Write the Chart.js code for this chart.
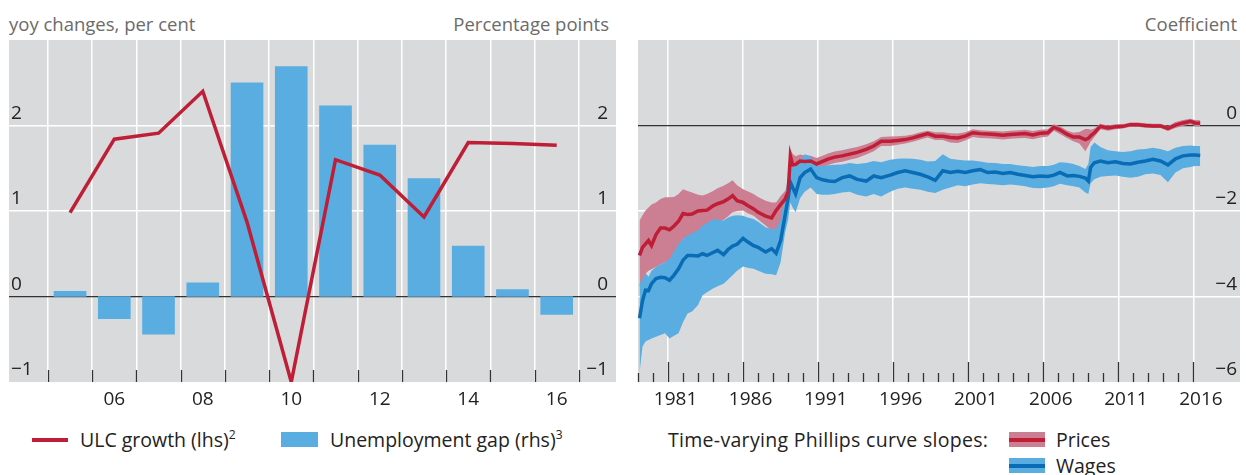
<!DOCTYPE html>
<html>
<head>
<meta charset="utf-8">
<script src="https://cdn.jsdelivr.net/npm/chart.js@4.4.1/dist/chart.umd.min.js"></script>
<style>
  body { margin: 0; width: 1246px; height: 475px; overflow: hidden; background: #fff;
         font-family: "Open Sans", sans-serif; color: #222; position: relative; }
  .abs { position: absolute; white-space: nowrap; }
  .unit { font-size: 18.5px; color: #6b6b6b; top: 11px; line-height: 26px; }
  .leg { font-size: 19.5px; line-height: 26px; color: #222; }
  sup { font-size: 12px; vertical-align: 8px; line-height: 0; }
</style>
</head>
<body>
<div class="abs unit" style="left:9px">yoy changes, per cent</div>
<div class="abs unit" style="right:637px">Percentage points</div>
<div class="abs unit" style="right:9px">Coefficient</div>

<canvas id="left" width="620" height="420" style="position:absolute;left:0;top:0"></canvas>
<canvas id="right" width="621" height="420" style="position:absolute;left:625px;top:0"></canvas>

<!-- legends -->
<div class="abs" style="left:32px;top:438px;width:36px;height:4px;background:#bf1e37"></div>
<div class="abs leg" style="left:80px;top:427px">ULC growth (lhs)<sup>2</sup></div>
<div class="abs" style="left:281px;top:432px;width:37px;height:15px;background:#5aade0"></div>
<div class="abs leg" style="left:330px;top:427px">Unemployment gap (rhs)<sup>3</sup></div>

<div class="abs leg" style="left:668px;top:427px;letter-spacing:0.3px">Time-varying Phillips curve slopes:</div>
<div class="abs" style="left:1009px;top:432px;width:36px;height:15px;background:#cc7e92"><div style="margin-top:5.5px;height:4px;background:#bf1e37"></div></div>
<div class="abs leg" style="left:1056px;top:427px">Prices</div>
<div class="abs" style="left:1009px;top:458px;width:36px;height:15px;background:#5aade0"><div style="margin-top:5.5px;height:4px;background:#0a6cb5"></div></div>
<div class="abs leg" style="left:1056px;top:453px">Wages</div>

<script>
// Left panel: ULC growth (lhs) and unemployment gap (rhs)
const ulcYears = [2005, 2006, 2007, 2008, 2009, 2010, 2011, 2012, 2013, 2014, 2015, 2016];
const ulcGrowth = [0.98, 1.84, 1.91, 2.40, 0.87, -1.00, 1.60, 1.42, 0.93, 1.80, 1.79, 1.77];
const unemploymentGap = [0.06, -0.26, -0.44, 0.16, 2.50, 2.69, 2.23, 1.77, 1.38, 0.59, 0.08, -0.21];
const leftTickYears = [2006, 2008, 2010, 2012, 2014, 2016];
const leftYTicks = [-1, 0, 1, 2];

// Right panel: time-varying Phillips curve slopes
const slopeDates = [1979.1, 1979.3, 1979.5, 1979.7, 1979.9, 1980.2, 1980.5, 1980.8, 1981.1, 1981.4,
  1981.7, 1982.0, 1982.3, 1982.6, 1983.0, 1983.3, 1983.6, 1984.0, 1984.3, 1984.7,
  1985.0, 1985.3, 1985.6, 1986.0, 1986.3, 1986.7, 1987.0, 1987.5, 1987.9, 1988.2,
  1988.5, 1988.8, 1989.0, 1989.15, 1989.3, 1989.5, 1989.8, 1990.1, 1990.5, 1990.9,
  1991.3, 1991.7, 1992.1, 1992.6, 1993.1, 1993.6, 1994.2, 1994.7, 1995.2, 1995.8,
  1996.3, 1996.8, 1997.3, 1997.8, 1998.3, 1998.8, 1999.3, 1999.8, 2000.3, 2000.8,
  2001.3, 2001.8, 2002.3, 2002.8, 2003.3, 2003.8, 2004.3, 2004.8, 2005.3, 2005.8,
  2006.3, 2006.7, 2007.1, 2007.6, 2008.0, 2008.4, 2008.8, 2009.0, 2009.15, 2009.4,
  2009.8, 2010.3, 2010.8, 2011.3, 2011.8, 2012.3, 2012.8, 2013.3, 2013.8, 2014.3,
  2014.8, 2015.3, 2015.8, 2016.1, 2016.45];

const priceSlope = [-3.04, -2.85, -2.77, -2.69, -2.81, -2.55, -2.40, -2.40, -2.44, -2.35,
  -2.24, -2.06, -2.08, -2.07, -2.00, -1.99, -1.98, -1.88, -1.83, -1.78,
  -1.72, -1.64, -1.76, -1.80, -1.87, -1.95, -2.03, -2.12, -2.16, -1.99,
  -1.85, -1.72, -1.55, -0.71, -0.92, -0.91, -0.83, -0.84, -0.83, -0.90,
  -0.84, -0.78, -0.74, -0.71, -0.67, -0.63, -0.56, -0.48, -0.37, -0.37,
  -0.35, -0.33, -0.29, -0.24, -0.19, -0.25, -0.25, -0.28, -0.29, -0.25,
  -0.17, -0.19, -0.20, -0.21, -0.23, -0.21, -0.20, -0.19, -0.22, -0.18,
  -0.17, -0.04, -0.10, -0.21, -0.27, -0.27, -0.33, -0.30, -0.24, -0.17,
  -0.02, -0.06, -0.03, -0.02, 0.02, 0.02, 0.00, -0.01, -0.01, -0.07,
  0.01, 0.06, 0.10, 0.06, 0.05];
const priceHigh = [-2.23, -2.10, -1.99, -1.92, -1.85, -1.80, -1.72, -1.68, -1.68, -1.67,
  -1.60, -1.49, -1.53, -1.57, -1.62, -1.64, -1.60, -1.53, -1.47, -1.41,
  -1.35, -1.28, -1.40, -1.49, -1.54, -1.60, -1.67, -1.76, -1.80, -1.80,
  -1.65, -1.53, -1.35, -0.56, -0.66, -0.72, -0.68, -0.70, -0.71, -0.76,
  -0.71, -0.65, -0.61, -0.58, -0.54, -0.50, -0.44, -0.37, -0.27, -0.26,
  -0.25, -0.24, -0.21, -0.16, -0.12, -0.16, -0.16, -0.18, -0.19, -0.16,
  -0.09, -0.11, -0.12, -0.13, -0.14, -0.12, -0.11, -0.10, -0.13, -0.10,
  -0.09, 0.03, -0.02, -0.12, -0.17, -0.15, -0.08, -0.08, -0.10, -0.07,
  0.04, 0.00, 0.03, 0.03, 0.07, 0.07, 0.05, 0.04, 0.04, -0.01,
  0.08, 0.13, 0.16, 0.13, 0.12];
const priceLow = [-3.78, -3.65, -3.47, -3.40, -3.36, -3.31, -3.25, -3.20, -3.15, -3.12,
  -2.95, -2.65, -2.60, -2.57, -2.48, -2.42, -2.35, -2.26, -2.24, -2.21,
  -2.12, -2.03, -2.00, -1.99, -2.05, -2.11, -2.20, -2.34, -2.45, -2.46,
  -2.25, -2.06, -1.80, -1.06, -1.10, -1.08, -1.00, -0.98, -0.97, -1.04,
  -0.98, -0.92, -0.88, -0.85, -0.80, -0.76, -0.68, -0.60, -0.48, -0.48,
  -0.45, -0.42, -0.38, -0.33, -0.28, -0.34, -0.34, -0.40, -0.41, -0.35,
  -0.27, -0.29, -0.30, -0.31, -0.33, -0.31, -0.30, -0.29, -0.32, -0.28,
  -0.26, -0.12, -0.20, -0.30, -0.37, -0.42, -0.60, -0.48, -0.38, -0.27,
  -0.09, -0.12, -0.09, -0.07, -0.03, -0.03, -0.05, -0.06, -0.06, -0.13,
  -0.06, -0.01, 0.03, -0.01, -0.02];

const wageSlope = [-4.51, -4.10, -3.85, -3.86, -3.70, -3.58, -3.55, -3.56, -3.62, -3.50,
  -3.35, -3.15, -3.04, -3.04, -3.05, -3.00, -3.04, -2.97, -2.92, -3.02,
  -2.90, -2.82, -2.78, -2.64, -2.72, -2.81, -2.85, -2.96, -2.88, -2.99,
  -2.69, -2.10, -1.70, -1.33, -1.45, -1.60, -1.22, -1.10, -1.02, -1.22,
  -1.27, -1.30, -1.31, -1.22, -1.18, -1.26, -1.30, -1.18, -1.22, -1.16,
  -1.10, -1.06, -1.10, -1.14, -1.20, -1.28, -1.06, -1.10, -1.07, -1.10,
  -1.06, -1.03, -1.10, -1.09, -1.12, -1.10, -1.14, -1.17, -1.20, -1.18,
  -1.19, -1.16, -1.10, -1.18, -1.17, -1.19, -1.23, -1.30, -0.98, -0.87,
  -0.83, -0.87, -0.85, -0.89, -0.90, -0.86, -0.83, -0.79, -0.83, -0.92,
  -0.78, -0.71, -0.69, -0.69, -0.70];
const wageHigh = [-3.70, -3.60, -3.45, -3.54, -3.40, -3.31, -3.25, -3.20, -3.12, -2.95,
  -2.77, -2.65, -2.57, -2.52, -2.45, -2.34, -2.28, -2.19, -2.20, -2.22,
  -2.15, -2.11, -2.10, -2.11, -2.15, -2.19, -2.25, -2.38, -2.42, -2.42,
  -2.20, -1.60, -1.20, -0.90, -1.00, -0.91, -0.80, -0.67, -0.72, -0.95,
  -0.95, -0.93, -0.92, -0.91, -0.88, -0.90, -0.88, -0.83, -0.86, -0.80,
  -0.78, -0.77, -0.78, -0.80, -0.84, -0.83, -0.67, -0.78, -0.80, -0.82,
  -0.82, -0.84, -0.87, -0.88, -0.90, -0.90, -0.93, -0.95, -0.97, -0.95,
  -0.95, -0.92, -0.86, -0.87, -0.90, -0.95, -1.02, -0.90, -0.50, -0.40,
  -0.50, -0.58, -0.60, -0.62, -0.60, -0.56, -0.55, -0.52, -0.55, -0.60,
  -0.52, -0.48, -0.47, -0.48, -0.48];
const wageLow = [-5.79, -5.17, -5.05, -5.02, -4.98, -4.94, -4.90, -4.86, -4.98, -4.92,
  -4.86, -4.60, -4.40, -4.35, -4.20, -3.97, -3.90, -3.81, -3.76, -3.70,
  -3.60, -3.50, -3.40, -3.30, -3.33, -3.35, -3.40, -3.47, -3.48, -3.50,
  -3.20, -2.50, -2.20, -1.80, -1.92, -2.03, -1.70, -1.55, -1.45, -1.60,
  -1.62, -1.62, -1.60, -1.57, -1.55, -1.62, -1.66, -1.60, -1.66, -1.55,
  -1.48, -1.45, -1.48, -1.50, -1.55, -1.58, -1.50, -1.45, -1.40, -1.42,
  -1.38, -1.35, -1.37, -1.38, -1.40, -1.38, -1.40, -1.42, -1.46, -1.47,
  -1.45, -1.42, -1.36, -1.40, -1.42, -1.45, -1.57, -1.60, -1.35, -1.26,
  -1.20, -1.18, -1.17, -1.20, -1.22, -1.20, -1.14, -1.12, -1.16, -1.33,
  -1.10, -1.00, -0.97, -0.95, -0.95];
const rightTickYears = [1981, 1986, 1991, 1996, 2001, 2006, 2011, 2016];
const rightYTicks = [-6, -4, -2, 0];

const RED = '#bf1e37', BLUE = '#5aade0', DARKBLUE = '#0a6cb5', PINK = '#cc7e92';
const CLEAR = 'rgba(0,0,0,0)';
Chart.defaults.font.family = '"Open Sans", sans-serif';
Chart.defaults.color = '#222';

// grey plot background
const plotBg = {
  id: 'plotBg',
  beforeDraw(chart) {
    const { ctx, chartArea: a } = chart;
    ctx.save();
    ctx.fillStyle = '#d9dadc';
    ctx.fillRect(a.left, a.top, a.width, a.height);
    ctx.restore();
  }
};

// small tick marks drawn inside the plot, up from the bottom edge
function innerTicks(values, lengthOf) {
  return {
    id: 'innerTicks',
    beforeDatasetsDraw(chart) {
      const { ctx, chartArea: a, scales: { x } } = chart;
      ctx.save();
      ctx.strokeStyle = '#333';
      ctx.lineWidth = 1.3;
      values.forEach(v => {
        const px = Math.round(x.getPixelForValue(v)) + 0.5;
        ctx.beginPath();
        ctx.moveTo(px, a.bottom);
        ctx.lineTo(px, a.bottom - lengthOf(v));
        ctx.stroke();
      });
      ctx.restore();
    }
  };
}

// y tick labels sitting inside the plot, just above their gridline
function innerYLabels(specs) {
  return {
    id: 'innerYLabels',
    afterDatasetsDraw(chart) {
      const { ctx, chartArea: a } = chart;
      ctx.save();
      ctx.font = '19px "Open Sans", sans-serif';
      ctx.fillStyle = '#222';
      ctx.textBaseline = 'middle';
      specs.forEach(sp => {
        const scale = chart.scales[sp.axis];
        ctx.textAlign = sp.side === 'left' ? 'left' : 'right';
        const x = sp.side === 'left' ? a.left + sp.inset : a.right - sp.inset;
        sp.values.forEach(v => ctx.fillText(fmt(v), x, scale.getPixelForValue(v) - 12));
      });
      ctx.restore();
    }
  };
}

const tv = c => (c.tick ? c.tick.value : NaN);
const fmt = v => (v < 0 ? '\u2212' + Math.abs(v) : String(v));
const pts = (xs, ys) => xs.map((x, i) => ({ x: x, y: ys[i] }));
const noPad = s => { s.paddingLeft = 0; s.paddingRight = 0; s.paddingTop = 0; s.paddingBottom = 0; };
const zeroWidth = s => { noPad(s); s.width = 0; };
const xHeight = s => { noPad(s); s.height = 32; };

// ---- left chart ----
const leftBounds = ulcYears.map(y => y - 0.5).concat([ulcYears[ulcYears.length - 1] + 0.5]);

new Chart(document.getElementById('left'), {
  type: 'bar',
  data: {
    datasets: [
      { type: 'line', label: 'ULC growth (lhs)', data: pts(ulcYears, ulcGrowth), yAxisID: 'y',
        borderColor: RED, borderWidth: 3.5, pointRadius: 0, tension: 0, order: 1 },
      { type: 'bar', label: 'Unemployment gap (rhs)', data: pts(ulcYears, unemploymentGap), yAxisID: 'y2',
        backgroundColor: BLUE, barThickness: 32, order: 2 }
    ]
  },
  options: {
    responsive: false,
    animation: false,
    layout: { padding: { left: 9, right: 4, top: 40, bottom: 6 } },
    plugins: { legend: { display: false }, tooltip: { enabled: false } },
    scales: {
      x: {
        type: 'linear', min: 2003.62, max: 2017.34, offset: false, afterFit: xHeight,
        afterBuildTicks: s => { s.ticks = leftBounds.concat(leftTickYears).sort((a, b) => a - b).map(v => ({ value: v })); },
        grid: { offset: false, color: c => (leftBounds.includes(tv(c)) ? '#fff' : CLEAR), lineWidth: 1.5, drawTicks: false },
        border: { display: false },
        ticks: { autoSkip: false, maxRotation: 0, padding: 6, font: { size: 19 },
          callback: v => (leftTickYears.includes(v) ? String(v).slice(2) : '') }
      },
      y: {
        position: 'left', min: -1, max: 3, afterFit: zeroWidth,
        afterBuildTicks: s => { s.ticks = leftYTicks.concat([3]).map(v => ({ value: v })); },
        grid: { color: c => (tv(c) === 0 ? '#333' : (tv(c) > -1 && tv(c) < 3 ? '#fff' : CLEAR)),
                lineWidth: c => (tv(c) === 0 ? 1.3 : 1.5), drawTicks: false },
        border: { display: false },
        ticks: { display: false }
      },
      y2: {
        position: 'right', min: -1, max: 3, afterFit: zeroWidth,
        grid: { display: false, drawTicks: false },
        border: { display: false },
        ticks: { display: false }
      }
    }
  },
  plugins: [plotBg, innerTicks(leftBounds, () => 12),
    innerYLabels([{ axis: 'y', side: 'left', inset: 2, values: leftYTicks },
                  { axis: 'y2', side: 'right', inset: 8, values: leftYTicks }])]
});

// ---- right chart ----
const yearMarks = [];
for (let y = 1979; y <= rightTickYears[rightTickYears.length - 1]; y++) yearMarks.push(y);
const labelPos = rightTickYears.map(y => y + 0.5);

new Chart(document.getElementById('right'), {
  type: 'line',
  data: {
    datasets: [
      { label: 'Prices upper', data: pts(slopeDates, priceHigh), fill: '+1', backgroundColor: PINK,
        borderWidth: 0, borderColor: CLEAR, pointRadius: 0, order: 4 },
      { label: 'Prices lower', data: pts(slopeDates, priceLow), fill: false,
        borderWidth: 0, borderColor: CLEAR, pointRadius: 0, order: 4 },
      { label: 'Wages upper', data: pts(slopeDates, wageHigh), fill: '+1', backgroundColor: BLUE,
        borderWidth: 0, borderColor: CLEAR, pointRadius: 0, order: 3 },
      { label: 'Wages lower', data: pts(slopeDates, wageLow), fill: false,
        borderWidth: 0, borderColor: CLEAR, pointRadius: 0, order: 3 },
      { label: 'Wages', data: pts(slopeDates, wageSlope), borderColor: DARKBLUE, borderWidth: 3.5,
        pointRadius: 0, tension: 0, fill: false, order: 2 },
      { label: 'Prices', data: pts(slopeDates, priceSlope), borderColor: RED, borderWidth: 3.5,
        pointRadius: 0, tension: 0, fill: false, order: 1 }
    ]
  },
  options: {
    responsive: false,
    animation: false,
    layout: { padding: { left: 13, right: 6, top: 40, bottom: 6 } },
    plugins: { legend: { display: false }, tooltip: { enabled: false } },
    scales: {
      x: {
        type: 'linear', min: 1979, max: 2019.1, offset: false, afterFit: xHeight,
        afterBuildTicks: s => { s.ticks = yearMarks.concat(labelPos).sort((a, b) => a - b).map(v => ({ value: v })); },
        grid: { offset: false, color: c => (rightTickYears.includes(tv(c)) ? '#fff' : CLEAR), lineWidth: 1.5, drawTicks: false },
        border: { display: false },
        ticks: { autoSkip: false, maxRotation: 0, padding: 6, font: { size: 19 },
          callback: v => (labelPos.includes(v) ? String(v - 0.5) : '') }
      },
      y: {
        position: 'right', min: -6, max: 2, afterFit: zeroWidth,
        afterBuildTicks: s => { s.ticks = rightYTicks.concat([2]).map(v => ({ value: v })); },
        grid: { color: c => (tv(c) === 0 ? '#333' : (tv(c) > -6 && tv(c) < 2 ? '#fff' : CLEAR)),
                lineWidth: c => (tv(c) === 0 ? 1.3 : 1.5), drawTicks: false },
        border: { display: false },
        ticks: { display: false }
      }
    }
  },
  plugins: [plotBg, innerTicks(yearMarks, v => (rightTickYears.includes(v) ? 20 : 9)),
    innerYLabels([{ axis: 'y', side: 'right', inset: 3, values: rightYTicks }])]
});
</script>
</body>
</html>
